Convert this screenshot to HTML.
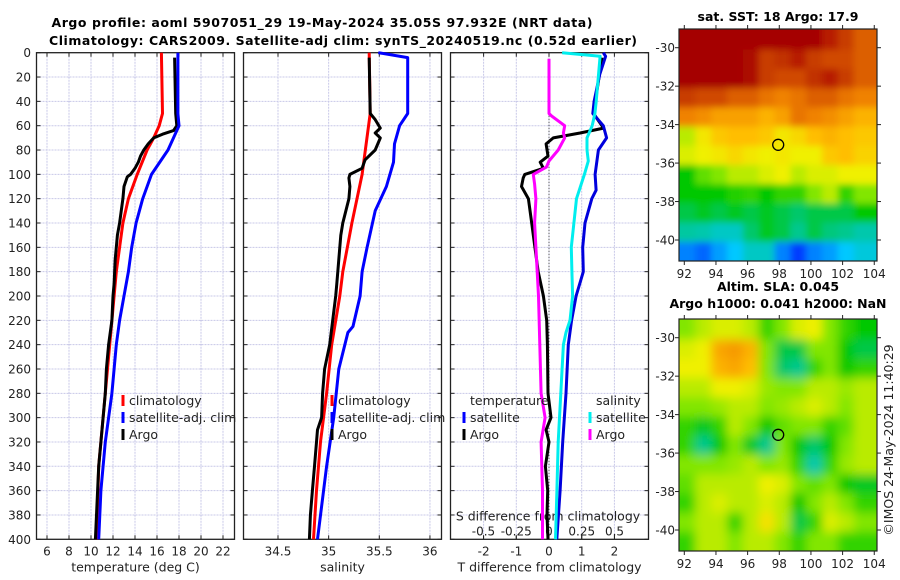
<!DOCTYPE html>
<html><head><meta charset="utf-8"><style>
html,body{margin:0;padding:0;background:#fff;}
svg{display:block;font-family:"DejaVu Sans","Liberation Sans",sans-serif;}
</style></head><body>
<svg id="fig" width="900" height="580" viewBox="0 0 900 580" xmlns="http://www.w3.org/2000/svg">
<defs>
<clipPath id="clipTop"><rect x="679" y="29" width="198" height="232"/></clipPath>
<clipPath id="clipBot"><rect x="679" y="319" width="198" height="232"/></clipPath>
<filter id="blurA" x="-10%" y="-10%" width="120%" height="120%"><feGaussianBlur stdDeviation="3.5"/></filter>
<filter id="blurB" x="-10%" y="-10%" width="120%" height="120%"><feGaussianBlur stdDeviation="5"/></filter>
</defs>
<text x="322" y="27" font-size="12.5" font-weight="bold" text-anchor="middle" textLength="541">Argo profile: aoml 5907051_29 19-May-2024 35.05S 97.932E (NRT data)</text>
<text x="343" y="45" font-size="12.5" font-weight="bold" text-anchor="middle" textLength="588">Climatology: CARS2009. Satellite-adj clim: synTS_20240519.nc (0.52d earlier)</text>
<g id="panels"></g>
<g id="maps"></g>
</svg>
<script>
// ---------- profile data ----------
const depthTicks = [0,20,40,60,80,100,120,140,160,180,200,220,240,260,280,300,320,340,360,380,400];
const tTickLabels = [6,8,10,12,14,16,18,20,22];
const sTickLabels = [34.5,35,35.5,36];
const dTTickLabels = [-2,-1,0,1,2];
const dSTickLabels = [-0.5,-0.25,0,0.25,0.5];

const climTDepth = [0,50,60,70,80,100,120,140,160,180,200,240,280,300,340,400];
const climT      = [16.4,16.5,16.2,15.7,15.1,14.2,13.4,12.9,12.6,12.3,12.1,11.7,11.3,11.1,10.7,10.5];
const satTDepth  = [0,50,60,70,80,100,120,140,160,180,200,220,240,280,320,360,400];
const satT       = [17.9,17.9,18.0,17.5,17.0,15.5,14.7,14.1,13.7,13.4,13.0,12.6,12.3,11.9,11.3,10.9,10.7];
const argoTDepth = [4,50,60,64,67,70,75,80,85,90,95,100,102,110,120,140,150,170,190,200,220,240,260,280,300,320,340,360,380,400];
const argoT      = [17.6,17.7,17.8,17.5,16.5,15.7,15.2,14.8,14.5,14.3,14.0,13.6,13.3,13.0,12.9,12.6,12.4,12.2,12.1,12.0,11.9,11.6,11.4,11.3,11.1,10.9,10.7,10.6,10.5,10.4];

const climSDepth = [0,50,100,140,180,200,240,280,320,360,400];
const climS      = [35.40,35.41,35.33,35.23,35.14,35.11,35.03,34.98,34.92,34.88,34.85];
const satSDepth  = [0,4,50,60,75,90,110,130,160,180,200,225,230,260,300,340,400];
const satS       = [35.49,35.78,35.78,35.70,35.65,35.64,35.57,35.46,35.38,35.33,35.31,35.24,35.19,35.10,35.05,34.98,34.89];
const argoSDepth = [4,50,55,62,66,70,80,88,95,100,103,110,120,140,150,170,190,200,240,260,280,300,310,320,340,360,380,400];
const argoS      = [35.40,35.41,35.46,35.51,35.46,35.51,35.46,35.36,35.33,35.21,35.20,35.21,35.20,35.14,35.12,35.10,35.08,35.07,35.01,34.96,34.94,34.93,34.89,34.88,34.86,34.84,34.82,34.81];

const dSatTDepth = [0,3,18,40,50,60,70,80,100,113,120,140,160,180,200,220,240,280,320,360,400];
const dSatT      = [1.66,1.73,1.55,1.38,1.34,1.66,1.76,1.51,1.41,1.44,1.31,1.10,1.03,1.05,0.83,0.69,0.59,0.52,0.42,0.34,0.24];
const dArgoTDepth = [4,50,62,66,70,75,85,90,95,100,103,110,120,140,160,180,200,220,240,280,300,310,320,340,360,380,400];
const dArgoT      = [1.62,1.36,1.67,0.95,0.13,-0.09,-0.03,-0.27,-0.17,-0.74,-0.79,-0.84,-0.63,-0.53,-0.43,-0.33,-0.17,-0.07,-0.05,-0.03,0.06,-0.09,0.0,-0.11,-0.04,-0.06,-0.03];
const dSatSDepth = [0,3,40,50,60,70,80,89,100,120,140,160,180,200,220,230,240,280,320,360,400];
const dSatS      = [0.10,0.39,0.36,0.35,0.33,0.29,0.29,0.30,0.27,0.21,0.19,0.17,0.175,0.18,0.16,0.13,0.11,0.09,0.07,0.06,0.05];
const dArgoSDepth = [5,50,52,60,66,70,80,89,94,100,108,120,140,160,200,240,280,300,320,360,400];
const dArgoS      = [0.0,0.0,0.02,0.12,0.11,0.12,0.07,0.0,-0.02,-0.12,-0.11,-0.10,-0.11,-0.10,-0.08,-0.07,-0.06,-0.03,-0.06,-0.05,-0.05];

// ---------- map data (values on 0..1 colour scale), rows lat -29.5..-40.5, cols lon 92.5..103.5 ----------
const sstGrid = [
[1,1,1,1,1,1,1,1,1,.95,.9,.85],
[1,1,1,1,.98,.9,.92,.95,.9,.88,.88,.85],
[1,1,1,1,.98,.9,.88,.88,.92,.95,.9,.85],
[.9,.88,.88,.85,.85,.82,.8,.82,.85,.85,.82,.8],
[.8,.78,.75,.75,.75,.72,.75,.82,.8,.78,.75,.72],
[.55,.62,.68,.7,.7,.68,.62,.65,.7,.72,.7,.68],
[.58,.6,.62,.65,.62,.6,.62,.6,.6,.68,.7,.66],
[.42,.48,.5,.55,.55,.58,.6,.55,.58,.58,.6,.6],
[.42,.42,.42,.44,.45,.42,.45,.45,.5,.55,.45,.5],
[.38,.4,.38,.4,.38,.4,.38,.36,.38,.38,.38,.42],
[.33,.32,.3,.3,.36,.4,.38,.34,.38,.35,.34,.32],
[.2,.18,.22,.25,.3,.3,.2,.15,.2,.22,.25,.28]];
const slaGrid = [
[.5,.55,.58,.58,.55,.45,.5,.58,.6,.5,.45,.42],
[.58,.6,.74,.76,.72,.5,.38,.38,.5,.5,.42,.38],
[.6,.6,.72,.74,.7,.5,.36,.34,.45,.5,.42,.45],
[.55,.55,.6,.6,.58,.52,.5,.5,.55,.55,.52,.55],
[.5,.5,.52,.55,.55,.5,.52,.55,.58,.55,.5,.55],
[.45,.4,.45,.55,.5,.42,.48,.5,.5,.45,.48,.55],
[.45,.34,.42,.5,.4,.34,.5,.42,.36,.42,.5,.55],
[.5,.5,.5,.52,.55,.5,.52,.45,.32,.45,.52,.55],
[.48,.55,.55,.55,.55,.6,.58,.5,.48,.5,.42,.4],
[.45,.55,.58,.55,.55,.58,.55,.42,.5,.55,.5,.45],
[.5,.55,.55,.45,.55,.63,.55,.38,.45,.58,.55,.5],
[.45,.55,.55,.5,.55,.55,.5,.45,.5,.5,.45,.45]];
const mapLonTicks = [92,94,96,98,100,102,104];
const mapLatTicks = [-30,-32,-34,-36,-38,-40];
const argoLon = 97.932, argoLat = -35.05;

const NS = "http://www.w3.org/2000/svg";
function mk(tag, attrs, parent){ const e=document.createElementNS(NS,tag); for(const k in attrs) e.setAttribute(k,attrs[k]); if(parent) parent.appendChild(e); return e; }
function txt(parent,x,y,s,opts){ const t=mk('text',Object.assign({x:x,y:y,'font-size':12,fill:'#222'},opts||{}),parent); t.textContent=s; return t; }

const TOP=52.7, BOT=539.3;
const yD = d => TOP + d*(BOT-TOP)/400;
const panels = [
  {name:'temperature-panel', x0:36.5, x1:234.5, f:v=>47+(v-6)*11.0, ticks:tTickLabels, label:'temperature (deg C)'},
  {name:'salinity-panel', x0:243.5, x1:441.5, f:v=>278+(v-34.5)*101.3, ticks:sTickLabels, label:'salinity'},
  {name:'difference-panel', x0:450.5, x1:648.5, f:v=>549+v*32.7, ticks:dTTickLabels, label:'T difference from climatology'}
];
const fS = v => 549 + v*131;
const gP = document.getElementById('panels');

panels.forEach((p,pi)=>{
  const g = mk('g',{},gP);
  
  
  depthTicks.forEach(d=>{ if(d>0&&d<400){ const l=mk('line',{x1:p.x0,x2:p.x1,y1:yD(d),y2:yD(d),stroke:'#c8c8e8','stroke-width':1,'stroke-dasharray':'2,1'},g);
      }});
  const vt = pi==2 ? dTTickLabels : p.ticks;
  vt.forEach(v=>{ const x=p.f(v); const l=mk('line',{x1:x,x2:x,y1:TOP,y2:BOT,stroke:'#c8c8e8','stroke-width':1,'stroke-dasharray':'2,1'},g);
     
    mk('line',{x1:x,x2:x,y1:BOT,y2:BOT-4,stroke:'#222'},g); mk('line',{x1:x,x2:x,y1:TOP,y2:TOP+4,stroke:'#222'},g);
    const t=txt(g,x,BOT+16,String(v),{'text-anchor':'middle'});
     
  });
  if(pi==2){ dSTickLabels.forEach(v=>{ const x=fS(v); mk('line',{x1:x,x2:x,y1:BOT,y2:BOT-4,stroke:'#222'},g);
    const t=txt(g,x,BOT-4,String(v),{'text-anchor':'middle'});
      });
    const z=mk('line',{x1:p.f(0),x2:p.f(0),y1:TOP,y2:BOT,stroke:'#333','stroke-dasharray':'1,2'},g);
     
    const st=txt(g,548,BOT-19,'S difference from climatology',{'text-anchor':'middle','font-size':12.5});
     
  }
  depthTicks.forEach(d=>{ mk('line',{x1:p.x0,x2:p.x0+4,y1:yD(d),y2:yD(d),stroke:'#222'},g); mk('line',{x1:p.x1,x2:p.x1-4,y1:yD(d),y2:yD(d),stroke:'#222'},g);
    if(pi==0){ const t=txt(g,31,yD(d)+4.5,String(d),{'text-anchor':'end'});   } });
  const fr=mk('rect',{x:p.x0,y:TOP,width:p.x1-p.x0,height:BOT-TOP,fill:'none',stroke:'#222','stroke-width':1.3},g);
   
  const xl=txt(g,(p.x0+p.x1)/2,BOT+32,p.label,{'text-anchor':'middle','font-size':12.5});
   
});

function line(parent, depths, vals, f, color, name){
  const d = depths.map((dd,i)=>(i?'L':'M')+f(vals[i]).toFixed(1)+','+yD(dd).toFixed(1)).join('');
  const p = mk('path',{d:d,fill:'none',stroke:color,'stroke-width':3,'stroke-linejoin':'round'},parent);
  
  
}
const gs = gP.children;
line(gs[0],climTDepth,climT,panels[0].f,'#ff0000','climatology-temperature-line');
line(gs[0],argoTDepth,argoT,panels[0].f,'#000000','argo-temperature-line');
line(gs[0],satTDepth,satT,panels[0].f,'#0000ff','satellite-temperature-line');
line(gs[1],climSDepth,climS,panels[1].f,'#ff0000','climatology-salinity-line');
line(gs[1],satSDepth,satS,panels[1].f,'#0000ff','satellite-salinity-line');
line(gs[1],argoSDepth,argoS,panels[1].f,'#000000','argo-salinity-line');
line(gs[2],dArgoTDepth,dArgoT,panels[2].f,'#000000','argo-t-diff-line');
line(gs[2],dSatTDepth,dSatT,panels[2].f,'#0000dd','satellite-t-diff-line');
line(gs[2],dSatSDepth,dSatS,fS,'#00eeee','satellite-s-diff-line');
line(gs[2],dArgoSDepth,dArgoS,fS,'#ff00ff','argo-s-diff-line');

function legend(parent,x,y,items){
  items.forEach((it,i)=>{
    const g=mk('g',{},parent);
    
    
    if(it[1]) mk('rect',{x:x-1.5,y:y+i*17-10,width:3,height:11,fill:it[1]},g);
    txt(g,x+6,y+i*17,it[0],{'font-size':12.5});
  });
}
legend(gs[0],123,405,[['climatology','#ff0000'],['satellite-adj. clim','#0000ff'],['Argo','#000']]);
legend(gs[1],332,405,[['climatology','#ff0000'],['satellite-adj. clim','#0000ff'],['Argo','#000']]);
legend(gs[2],464,405,[['temperature',null],['satellite','#0000ff'],['Argo','#000']]);
legend(gs[2],590,405,[['salinity',null],['satellite','#00eeee'],['Argo','#ff00ff']]);

// ---------- maps ----------
const stops=[[0,[0,0,150]],[.15,[0,60,255]],[.25,[0,200,255]],[.33,[0,200,160]],[.42,[0,200,0]],[.5,[130,230,0]],[.6,[240,240,0]],[.7,[255,190,0]],[.8,[240,130,0]],[.9,[200,60,0]],[1,[165,0,0]]];
function cmap(v){ for(let i=1;i<stops.length;i++){ if(v<=stops[i][0]){ const a=stops[i-1],b=stops[i],t=(v-a[0])/(b[0]-a[0]); return 'rgb('+a[1].map((c,k)=>Math.round(c+(b[1][k]-c)*t)).join(',')+')'; } } return 'rgb(165,0,0)'; }
const gM=document.getElementById('maps');
function drawMap(grid, top, clipId, filt, name, titles){
  const g=mk('g',{},gM);
  
  
  const X0=679,X1=877,Y1=top+232;
  const lonX=lon=>684.3+(lon-92)*15.83;
  const latY=lat=>(top+18.7)+(-30-lat)*19.23;
  const cg=mk('g',{'clip-path':'url(#'+clipId+')'},g);
  const ig=mk('g',{filter:'url(#'+filt+')'},cg);
  grid.forEach((row,r)=>row.forEach((v,c)=>{
    const lx0=c==0?89:91.7+c, lx1=c==11?106:92.7+c+0.05;
    const la0=r==0?-27:-29.1-r, la1=r==11?-43:-30.1-r-0.05;
    const x=lonX(lx0), y=latY(la0);
    mk('rect',{x:x,y:y,width:lonX(lx1)-x,height:latY(la1)-y,fill:cmap(v)},ig);
  }));
  const c=mk('circle',{cx:lonX(argoLon),cy:latY(argoLat),r:5.5,fill:'none',stroke:'#000','stroke-width':1.3},g);
   
  mk('rect',{x:X0,y:top,width:X1-X0,height:232,fill:'none',stroke:'#222','stroke-width':1.2},g);
  mapLonTicks.forEach(lon=>{ const x=lonX(lon); mk('line',{x1:x,x2:x,y1:top,y2:top-4,stroke:'#222'},g); mk('line',{x1:x,x2:x,y1:Y1,y2:Y1+4,stroke:'#222'},g);
    const t=txt(g,x,Y1+17,String(lon),{'text-anchor':'middle'});   });
  mapLatTicks.forEach(lat=>{ const y=latY(lat); mk('line',{x1:X0,x2:X0-4,y1:y,y2:y,stroke:'#222'},g); mk('line',{x1:X1,x2:X1+4,y1:y,y2:y,stroke:'#222'},g);
    const t=txt(g,675,y+4.5,String(lat),{'text-anchor':'end'});   });
  titles.forEach((s,i)=>{ const t=txt(g,778,titles.length==1?top-8:top-28+i*17,s,{'text-anchor':'middle','font-weight':'bold','font-size':12.5,fill:'#000'});
      });
}
drawMap(sstGrid,29,'clipTop','blurA','sst-map',['sat. SST: 18 Argo: 17.9']);
drawMap(slaGrid,319,'clipBot','blurB','sla-map',['Altim. SLA: 0.045','Argo h1000: 0.041 h2000: NaN']);
const cr=txt(gM,0,0,'©IMOS 24-May-2024 11:40:29',{'text-anchor':'middle','font-size':12.5,transform:'translate(893,440) rotate(-90)'});


</script>
</body></html>
